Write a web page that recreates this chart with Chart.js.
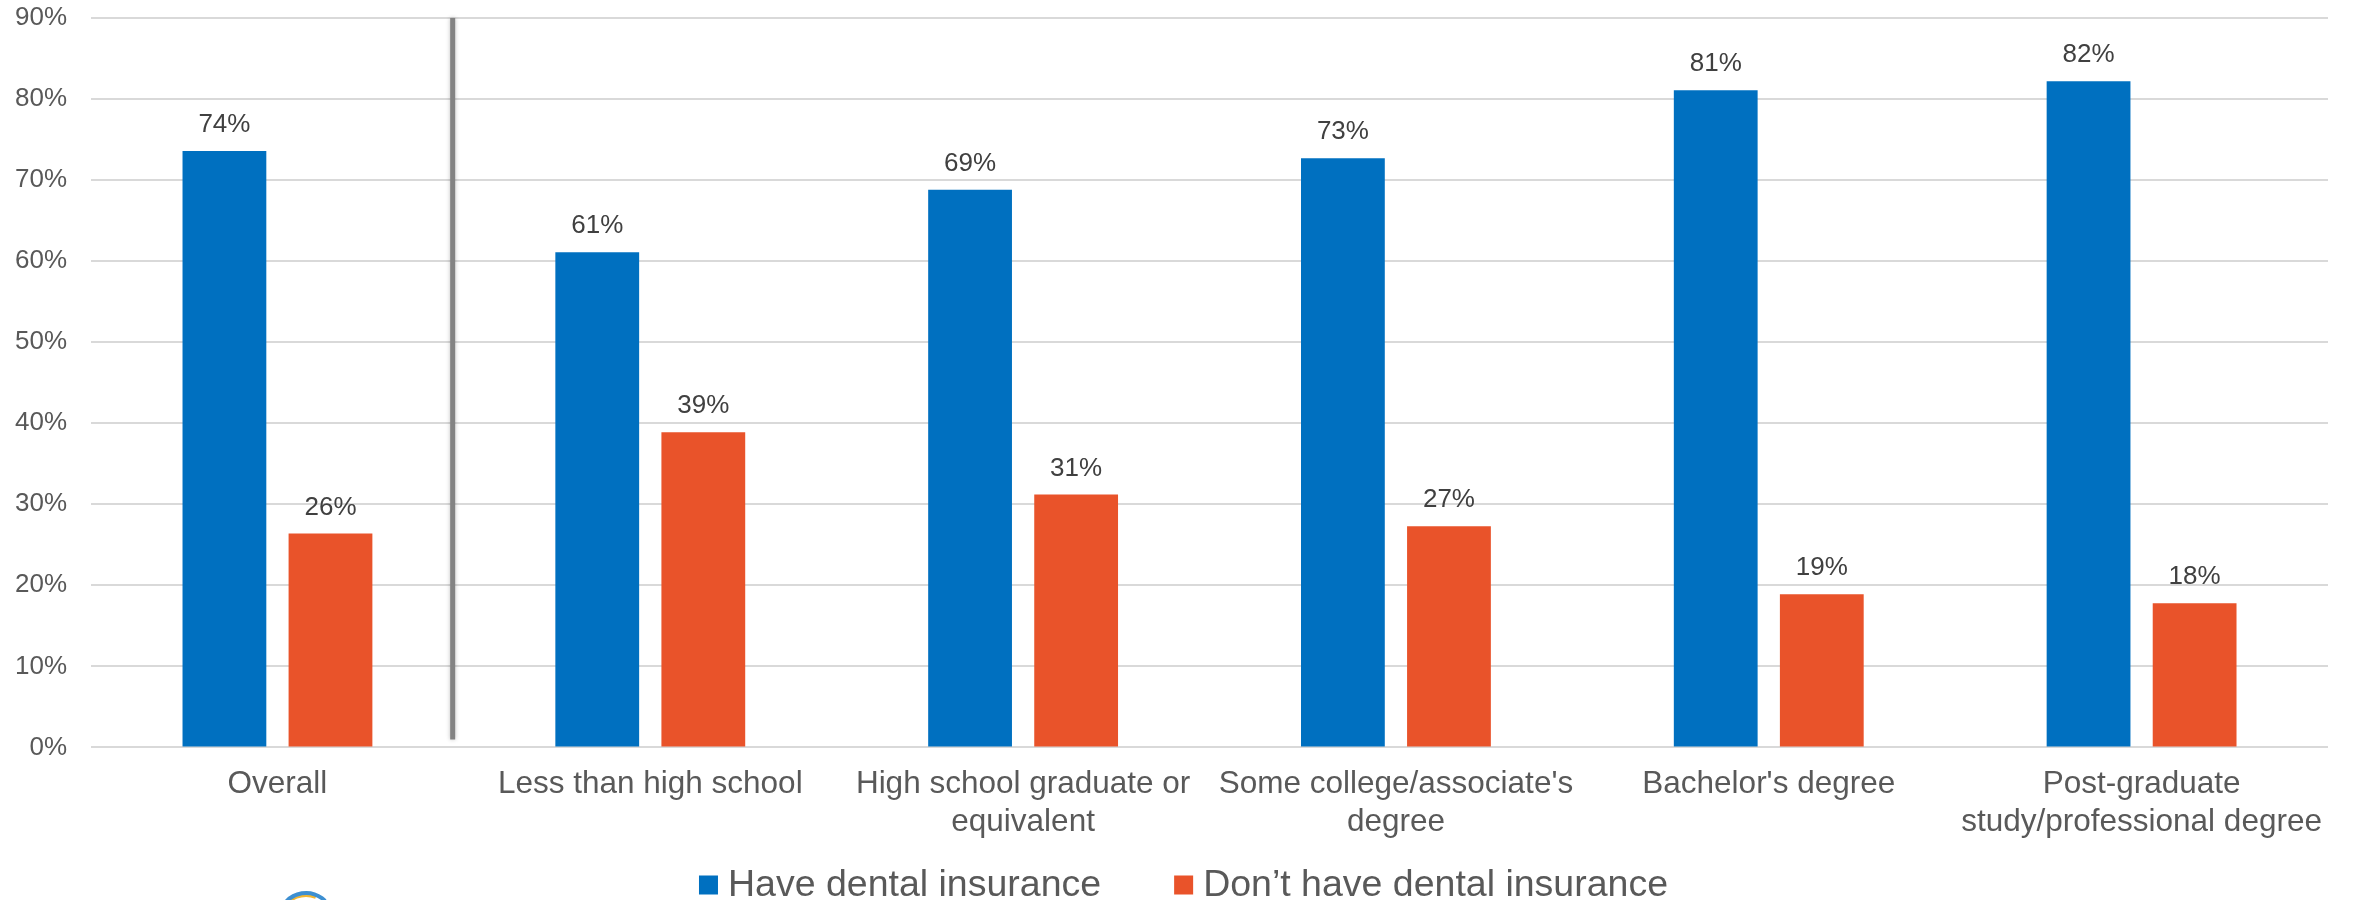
<!DOCTYPE html>
<html>
<head>
<meta charset="utf-8">
<script src="https://cdn.jsdelivr.net/npm/chart.js@4.4.0/dist/chart.umd.js"></script>
<style>
    html, body { margin: 0; padding: 0; background: #ffffff; overflow: hidden; }
    #wrap { width: 2353px; height: 900px; position: relative; }
</style>
</head>
<body>
<div id="wrap"><canvas id="dentalChart" width="2353" height="900"></canvas></div>
<script>
// Data
const categories = [
    'Overall',
    'Less than high school',
    ['High school graduate or', 'equivalent'],
    ["Some college/associate's", 'degree'],
    "Bachelor's degree",
    ['Post-graduate', 'study/professional degree']
];
const haveInsurance = [73.6, 61.1, 68.8, 72.7, 81.1, 82.2];
const noInsurance = [26.4, 38.9, 31.2, 27.3, 18.9, 17.8];
const seriesNames = ['Have dental insurance', 'Don\u2019t have dental insurance'];
const yTicks = [0, 10, 20, 30, 40, 50, 60, 70, 80, 90];

const FONT = "'Liberation Sans', Arial, sans-serif";
const BLUE = '#0070c0';
const ORANGE = '#e9532a';

// Value labels above each bar
const barLabels = {
    id: 'barLabels',
    afterDatasetsDraw(chart) {
        const ctx = chart.ctx;
        ctx.save();
        ctx.font = '26px ' + FONT;
        ctx.fillStyle = '#404040';
        ctx.textAlign = 'center';
        ctx.textBaseline = 'middle';
        chart.data.datasets.forEach((ds, i) => {
            chart.getDatasetMeta(i).data.forEach((bar, j) => {
                ctx.fillText(Math.round(ds.data[j]) + '%', bar.x, bar.y - 26);
            });
        });
        ctx.restore();
    }
};

// Grey divider between "Overall" and the education groups
const divider = {
    id: 'divider',
    beforeDatasetsDraw(chart) {
        const ctx = chart.ctx;
        const x = chart.scales.x.getPixelForValue(0.47);
        const y0 = chart.scales.y.getPixelForValue(90);
        const y1 = chart.scales.y.getPixelForValue(0) - 8;
        ctx.save();
        ctx.strokeStyle = '#838383';
        ctx.lineWidth = 5;
        ctx.shadowColor = 'rgba(0,0,0,0.25)';
        ctx.shadowBlur = 4;
        ctx.beginPath();
        ctx.moveTo(x, y0);
        ctx.lineTo(x, y1);
        ctx.stroke();
        ctx.restore();
    }
};

// Legend drawn by hand so the box-to-text gap matches
const bottomLegend = {
    id: 'bottomLegend',
    afterDraw(chart) {
        const ctx = chart.ctx;
        const box = 19, gap = 10, itemGap = 73;
        ctx.save();
        ctx.font = '37.5px ' + FONT;
        const widths = chart.data.datasets.map(ds => ctx.measureText(ds.label).width);
        const total = widths.reduce((a, w) => a + box + gap + w, 0) + itemGap * (widths.length - 1);
        let x = chart.width / 2 + 7 - total / 2;
        const yMid = 885;
        ctx.textBaseline = 'middle';
        ctx.textAlign = 'left';
        chart.data.datasets.forEach((ds, i) => {
            ctx.fillStyle = ds.backgroundColor;
            ctx.fillRect(x, yMid - box / 2, box, box);
            ctx.fillStyle = '#595959';
            ctx.fillText(ds.label, x + box + gap, yMid + 1);
            x += box + gap + widths[i] + itemGap;
        });
        // cut-off logo arc at the bottom-left edge
        ctx.lineWidth = 4;
        ctx.strokeStyle = '#f2b632';
        ctx.beginPath();
        ctx.arc(306, 922, 27, Math.PI * 1.15, Math.PI * 1.62);
        ctx.stroke();
        ctx.strokeStyle = '#3d8fd1';
        ctx.beginPath();
        ctx.arc(306, 920, 27, Math.PI * 1.2, Math.PI * 1.75);
        ctx.stroke();
        ctx.restore();
    }
};

new Chart(document.getElementById('dentalChart'), {
    type: 'bar',
    data: {
        labels: categories,
        datasets: [{
            label: seriesNames[0],
            data: haveInsurance,
            backgroundColor: BLUE,
            categoryPercentage: 0.569,
            barPercentage: 0.79
        }, {
            label: seriesNames[1],
            data: noInsurance,
            backgroundColor: ORANGE,
            categoryPercentage: 0.569,
            barPercentage: 0.79
        }]
    },
    options: {
        responsive: false,
        animation: false,
        layout: {
            padding: { left: -9, right: 25, top: 18, bottom: 41 }
        },
        plugins: {
            legend: { display: false },
            tooltip: { enabled: false }
        },
        scales: {
            x: {
                grid: { display: false, drawTicks: false },
                border: { display: false },
                ticks: {
                    color: '#595959',
                    padding: 18,
                    maxRotation: 0,
                    autoSkip: false,
                    font: { family: FONT, size: 31.5, lineHeight: 1.2 }
                }
            },
            y: {
                min: 0,
                max: 90,
                afterBuildTicks(axis) {
                    axis.ticks = yTicks.map(v => ({ value: v }));
                },
                afterFit(axis) {
                    axis.paddingTop = 0;
                    axis.paddingBottom = 0;
                },
                grid: { color: '#d9d9d9', lineWidth: 2, drawTicks: false },
                border: { display: false },
                ticks: {
                    color: '#595959',
                    padding: 24,
                    font: { family: FONT, size: 26 },
                    callback: v => v + '%'
                }
            }
        }
    },
    plugins: [divider, barLabels, bottomLegend]
});
</script>
</body>
</html>
